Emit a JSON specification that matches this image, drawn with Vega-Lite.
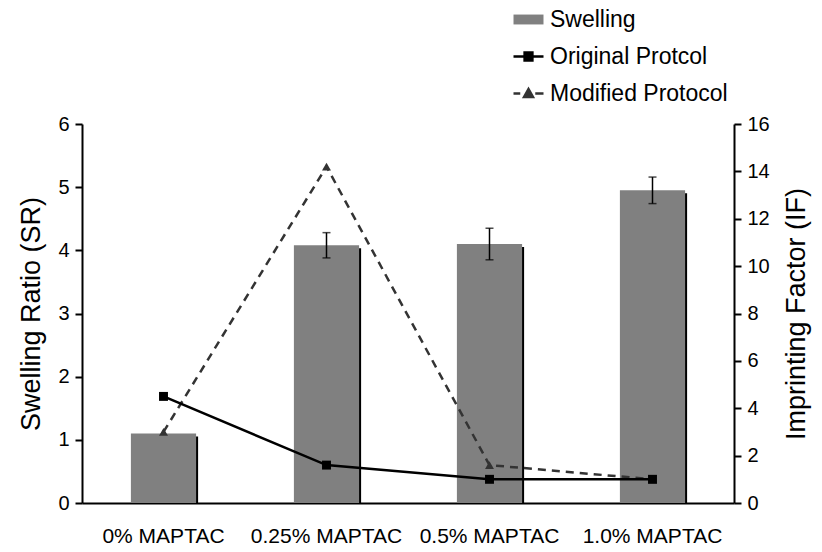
{
  "$schema": "https://vega.github.io/schema/vega-lite/v6.json",
  "width": 652,
  "height": 379,
  "autosize": "none",
  "padding": {"left": 82, "top": 124, "right": 88, "bottom": 49},
  "background": "white",
  "config": {
    "view": {"stroke": null},
    "font": "Liberation Sans",
    "axis": {
      "grid": false,
      "domainColor": "black",
      "domainWidth": 2,
      "tickColor": "black",
      "tickWidth": 2,
      "labelColor": "black",
      "titleColor": "black",
      "labelFont": "Liberation Sans",
      "titleFont": "Liberation Sans",
      "titleFontWeight": "normal"
    }
  },
  "data": {
    "values": [
      {"cat": "0% MAPTAC", "sr": 1.1, "lo": null, "hi": null, "orig": 4.5, "mod": 3.0},
      {"cat": "0.25% MAPTAC", "sr": 4.08, "lo": 3.88, "hi": 4.28, "orig": 1.6, "mod": 14.2},
      {"cat": "0.5% MAPTAC", "sr": 4.1, "lo": 3.85, "hi": 4.35, "orig": 1.0, "mod": 1.6},
      {"cat": "1.0% MAPTAC", "sr": 4.95, "lo": 4.74, "hi": 5.16, "orig": 1.0, "mod": 1.0}
    ]
  },
  "encoding": {
    "x": {
      "field": "cat",
      "type": "nominal",
      "sort": ["0% MAPTAC", "0.25% MAPTAC", "0.5% MAPTAC", "1.0% MAPTAC"],
      "scale": {"paddingInner": 0.6, "paddingOuter": 0.3},
      "axis": {"title": null, "labelAngle": 0, "ticks": false, "labelFontSize": 21, "labelPadding": 22, "labelLimit": 0}
    }
  },
  "layer": [
    {
      "encoding": {
        "y": {
          "type": "quantitative",
          "scale": {"domain": [0, 6], "nice": false},
          "axis": {
            "title": "Swelling Ratio (SR)",
            "values": [0, 1, 2, 3, 4, 5, 6],
            "tickSize": 7,
            "labelFontSize": 20,
            "labelPadding": 6,
            "titleFontSize": 27,
            "titlePadding": 12
          }
        }
      },
      "layer": [
        {
          "mark": {"type": "bar", "color": "black", "xOffset": 2, "yOffset": 3, "clip": true},
          "encoding": {"y": {"field": "sr", "type": "quantitative"}}
        },
        {
          "mark": {"type": "bar"},
          "encoding": {
            "y": {"field": "sr", "type": "quantitative"},
            "color": {
              "datum": "Swelling",
              "scale": {
                "domain": ["Swelling", "Original Protcol", "Modified Protocol"],
                "range": ["#808080", "black", "#333333"]
              },
              "legend": {
                "title": null,
                "orient": "none",
                "legendX": 430,
                "legendY": -121,
                "padding": 0,
                "symbolSize": 900,
                "rowPadding": 8,
                "labelOffset": 5,
                "labelFontSize": 23,
                "labelLimit": 0,
                "labelColor": "black",
                "labelFont": "Liberation Sans",
                "encode": {
                  "symbols": {
                    "update": {
                      "shape": {"signal": "datum.value === 'Swelling' ? 'M-1,-0.33H1V0.33H-1Z' : (datum.value === 'Original Protcol' ? 'M-1,0H1M-0.26,-0.26H0.26V0.26H-0.26Z' : 'M-1,0H-0.55M0.45,0H1M-0.3,0.24L0,-0.3L0.3,0.24Z')"},
                      "fill": {"signal": "datum.value === 'Swelling' ? '#808080' : (datum.value === 'Original Protcol' ? 'black' : '#333333')"},
                      "stroke": {"signal": "datum.value === 'Swelling' ? 'transparent' : (datum.value === 'Original Protcol' ? 'black' : '#333333')"},
                      "strokeWidth": {"value": 2.5},
                      "size": {"value": 900},
                      "opacity": {"value": 1},
                      "fillOpacity": {"value": 1}
                    }
                  }
                }
              }
            }
          }
        },
        {
          "mark": {"type": "rule", "color": "black", "strokeWidth": 1.5},
          "encoding": {
            "y": {"field": "lo", "type": "quantitative"},
            "y2": {"field": "hi"}
          }
        },
        {
          "mark": {"type": "tick", "color": "black", "thickness": 1.5, "size": 8, "orient": "horizontal"},
          "encoding": {"y": {"field": "lo", "type": "quantitative"}}
        },
        {
          "mark": {"type": "tick", "color": "black", "thickness": 1.5, "size": 8, "orient": "horizontal"},
          "encoding": {"y": {"field": "hi", "type": "quantitative"}}
        }
      ]
    },
    {
      "encoding": {
        "y": {
          "type": "quantitative",
          "scale": {"domain": [0, 16], "nice": false},
          "axis": {
            "orient": "right",
            "title": "Imprinting Factor (IF)",
            "values": [0, 2, 4, 6, 8, 10, 12, 14, 16],
            "tickSize": 7,
            "labelFontSize": 20,
            "labelPadding": 6,
            "titleFontSize": 27,
            "titleAngle": 270,
            "titleBaseline": "top",
            "titlePadding": 14
          }
        }
      },
      "layer": [
        {
          "mark": {"type": "line", "color": "#333333", "strokeWidth": 2.5, "strokeDash": [8, 6],
            "point": {"shape": "triangle-up", "size": 80, "filled": true, "color": "#333333"}},
          "encoding": {"y": {"field": "mod", "type": "quantitative"}}
        },
        {
          "mark": {"type": "line", "color": "black", "strokeWidth": 2.5,
            "point": {"shape": "square", "size": 80, "filled": true, "color": "black"}},
          "encoding": {"y": {"field": "orig", "type": "quantitative"}}
        }
      ]
    }
  ],
  "resolve": {"scale": {"y": "independent"}, "axis": {"y": "independent"}}
}
